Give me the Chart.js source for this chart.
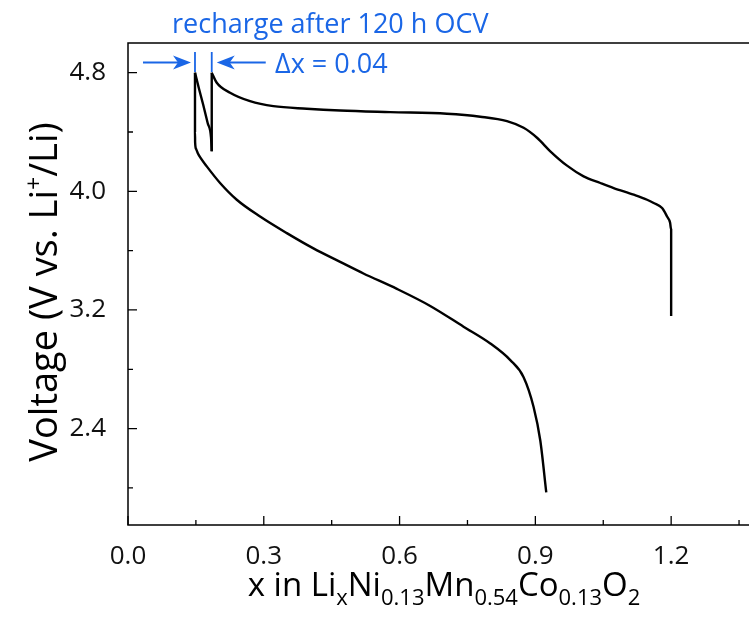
<!DOCTYPE html>
<html>
<head>
<meta charset="utf-8">
<script src="https://cdn.jsdelivr.net/npm/chart.js@4.4.0/dist/chart.umd.min.js"></script>
<style>
  html, body { margin: 0; padding: 0; background: #fff; }
  canvas { display: block; }
</style>
</head>
<body>
<canvas id="chart" width="749" height="622"></canvas>
<script>
// first charge from pristine x = 1.2 up to 4.8 V
const chargeX = [1.200, 1.200, 1.1977, 1.191, 1.180, 1.1614, 1.1468, 1.1172, 1.073, 1.0436, 1.0066, 0.970, 0.933, 0.9036, 0.874, 0.8373, 0.7783, 0.7046, 0.5793, 0.4688, 0.3951, 0.3212, 0.2697, 0.2255, 0.1961, 0.185];
const chargeV = [3.159, 3.740, 3.788, 3.830, 3.887, 3.921, 3.943, 3.977, 4.022, 4.056, 4.101, 4.173, 4.270, 4.361, 4.428, 4.473, 4.503, 4.523, 4.534, 4.545, 4.557, 4.574, 4.608, 4.665, 4.732, 4.80];
// 120 h open circuit
const ocvX = [0.185, 0.185];
const ocvV = [4.80, 4.27];
// recharge back to 4.8 V
const rechargeX = [0.185, 0.1835, 0.176, 0.166, 0.157, 0.148];
const rechargeV = [4.27, 4.36, 4.46, 4.585, 4.69, 4.80];
// discharge down to 2.0 V
const dischargeX = [0.148, 0.148, 0.1483, 0.1505, 0.1545, 0.1592, 0.174, 0.2034, 0.2403, 0.2918, 0.3509, 0.4097, 0.4687, 0.5202, 0.5941, 0.6677, 0.7413, 0.8004, 0.8446, 0.874, 0.8961, 0.9109, 0.9241];
const dischargeV = [4.80, 4.40, 4.33, 4.285, 4.255, 4.230, 4.168, 4.056, 3.943, 3.830, 3.718, 3.615, 3.524, 3.446, 3.342, 3.227, 3.087, 2.974, 2.862, 2.747, 2.546, 2.320, 1.970];

const xTicks = [0.0, 0.3, 0.6, 0.9, 1.2];
const xMinor = [0.15, 0.45, 0.75, 1.05, 1.35];
const yTicks = [2.4, 3.2, 4.0, 4.8];
const yMinor = [2.0, 2.8, 3.6, 4.4];

const BLUE = 'rgb(26,102,230)';
const FONT = '"Open Sans", "DejaVu Sans", sans-serif';

function line(xs, vs) {
  return {
    data: xs.map((x, i) => ({ x: x, y: vs[i] })),
    showLine: true,
    borderColor: '#000',
    borderWidth: 2.4,
    pointRadius: 0,
    cubicInterpolationMode: 'monotone',
    fill: false
  };
}

// draw a list of [text, size, dy] runs starting at x0 along the baseline
function runs(ctx, parts, x0, y0) {
  let x = x0;
  parts.forEach(p => {
    ctx.font = p[1] + 'px ' + FONT;
    ctx.fillText(p[0], x, y0 + p[2]);
    x += ctx.measureText(p[0]).width;
  });
}
function runsWidth(ctx, parts) {
  let w = 0;
  parts.forEach(p => {
    ctx.font = p[1] + 'px ' + FONT;
    w += ctx.measureText(p[0]).width;
  });
  return w;
}

const decor = {
  id: 'decor',
  afterDraw(chart) {
    const ctx = chart.ctx;
    const a = chart.chartArea;
    const xs = chart.scales.x, ys = chart.scales.y;
    ctx.save();

    // frame (left, bottom, top)
    ctx.strokeStyle = '#000';
    ctx.lineWidth = 1.5;
    ctx.beginPath();
    ctx.moveTo(a.right, a.top);
    ctx.lineTo(a.left, a.top);
    ctx.lineTo(a.left, a.bottom);
    ctx.lineTo(a.right, a.bottom);
    ctx.stroke();

    // inward ticks
    ctx.lineWidth = 1.3;
    ctx.beginPath();
    xTicks.forEach(v => { const p = xs.getPixelForValue(v); ctx.moveTo(p, a.bottom); ctx.lineTo(p, a.bottom - 9); });
    xMinor.forEach(v => { const p = xs.getPixelForValue(v); ctx.moveTo(p, a.bottom); ctx.lineTo(p, a.bottom - 5); });
    yTicks.forEach(v => { const p = ys.getPixelForValue(v); ctx.moveTo(a.left, p); ctx.lineTo(a.left + 9, p); });
    yMinor.forEach(v => { const p = ys.getPixelForValue(v); ctx.moveTo(a.left, p); ctx.lineTo(a.left + 5, p); });
    ctx.stroke();

    // axis titles
    ctx.fillStyle = '#000';
    ctx.textBaseline = 'alphabetic';
    ctx.textAlign = 'left';
    const xt = [['x in Li', 33, 0], ['x', 22, 9], ['Ni', 33, 0], ['0.13', 22, 9], ['Mn', 33, 0],
                ['0.54', 22, 9], ['Co', 33, 0], ['0.13', 22, 9], ['O', 33, 0], ['2', 22, 9]];
    const xw = runsWidth(ctx, xt);
    runs(ctx, xt, 444 - xw / 2, 596);

    const yt = [['Voltage (V vs. Li', 38, 0], ['+', 23, -15], ['/Li)', 38, 0]];
    const yw = runsWidth(ctx, yt);
    ctx.save();
    ctx.translate(57, 292);
    ctx.rotate(-Math.PI / 2);
    runs(ctx, yt, -yw / 2, 0);
    ctx.restore();

    // annotation
    ctx.fillStyle = BLUE;
    ctx.strokeStyle = BLUE;
    ctx.font = '27px ' + FONT;
    ctx.fillText('recharge after 120 h OCV', 172, 33);
    ctx.fillText('\u0394x = 0.04', 275, 73);

    const m1 = xs.getPixelForValue(rechargeX[rechargeX.length - 1]);
    const m2 = xs.getPixelForValue(ocvX[0]);
    ctx.lineWidth = 1.8;
    ctx.beginPath();
    ctx.moveTo(m1, 52); ctx.lineTo(m1, 72);
    ctx.moveTo(m2, 52); ctx.lineTo(m2, 72);
    const ay = 62.5;
    ctx.moveTo(m1 - 52, ay); ctx.lineTo(m1 - 14, ay);
    ctx.moveTo(m2 + 54, ay); ctx.lineTo(m2 + 14, ay);
    ctx.stroke();
    // arrow heads
    ctx.beginPath();
    ctx.moveTo(m1 - 4, ay); ctx.lineTo(m1 - 22, ay - 7); ctx.lineTo(m1 - 17, ay); ctx.lineTo(m1 - 22, ay + 7); ctx.closePath();
    ctx.moveTo(m2 + 5, ay); ctx.lineTo(m2 + 23, ay - 7); ctx.lineTo(m2 + 18, ay); ctx.lineTo(m2 + 23, ay + 7); ctx.closePath();
    ctx.fill();

    ctx.restore();
  }
};

new Chart(document.getElementById('chart'), {
  type: 'scatter',
  data: {
    datasets: [
      line(chargeX, chargeV),
      line(ocvX, ocvV),
      line(rechargeX, rechargeV),
      line(dischargeX, dischargeV)
    ]
  },
  options: {
    responsive: false,
    animation: false,
    layout: { padding: { top: 43, right: 0, left: 0, bottom: 0 } },
    plugins: { legend: { display: false }, tooltip: { enabled: false } },
    scales: {
      x: {
        type: 'linear',
        min: 0,
        max: 1.372,
        border: { display: false },
        grid: { display: false },
        afterBuildTicks: s => { s.ticks = xTicks.map(v => ({ value: v })); },
        afterFit: s => { s.height = 97; },
        ticks: {
          callback: v => v.toFixed(1),
          color: '#111',
          font: { family: FONT, size: 26 },
          padding: 8,
          maxRotation: 0
        }
      },
      y: {
        type: 'linear',
        min: 1.75,
        max: 5.0,
        border: { display: false },
        grid: { display: false },
        afterBuildTicks: s => { s.ticks = yTicks.map(v => ({ value: v })); },
        afterFit: s => { s.width = 128; },
        ticks: {
          callback: v => v.toFixed(1),
          color: '#111',
          font: { family: FONT, size: 26 },
          padding: 14
        }
      }
    }
  },
  plugins: [decor]
});
</script>
</body>
</html>
